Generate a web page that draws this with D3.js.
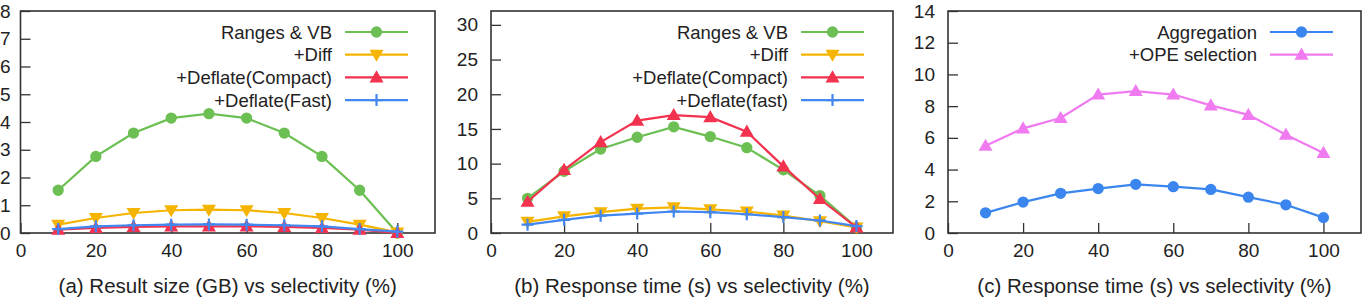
<!DOCTYPE html>
<html><head><meta charset="utf-8">
<script src="https://cdn.jsdelivr.net/npm/d3@7"></script>
<style>body{margin:0;background:#fff;} svg{display:block;} text{font-family:"Liberation Sans",Arial,Helvetica,sans-serif;fill:#222;}</style>
</head><body>
<svg id="c" width="1366" height="302"></svg>
<script>
const xs = [10,20,30,40,50,60,70,80,90,100];
const xTicks = [0,20,40,60,80,100];

// Panel (a): Result size (GB)
const aRanges = [1.54,2.76,3.6,4.14,4.3,4.14,3.6,2.76,1.54,0.0];
const aDiff = [0.3,0.54,0.72,0.82,0.84,0.82,0.72,0.54,0.3,0.02];
const aCompact = [0.12,0.18,0.22,0.24,0.24,0.24,0.22,0.18,0.12,0.0];
const aFast = [0.14,0.24,0.28,0.3,0.31,0.3,0.28,0.24,0.14,0.05];
const aYTicks = [0,1,2,3,4,5,6,7,8];

// Panel (b): Response time (s)
const bRanges = [5.0,8.9,12.1,13.8,15.3,13.9,12.3,9.1,5.4,0.8];
const bDiff = [1.6,2.4,3.0,3.5,3.7,3.4,3.1,2.5,1.7,0.8];
const bCompact = [4.5,9.1,13.1,16.2,17.0,16.7,14.6,9.6,4.9,0.8];
const bFast = [1.2,1.9,2.5,2.8,3.1,3.0,2.7,2.3,1.8,1.0];
const bYTicks = [0,5,10,15,20,25,30];

// Panel (c): Response time (s)
const cAgg = [1.27,1.95,2.5,2.8,3.07,2.92,2.75,2.26,1.78,0.97];
const cOpe = [5.5,6.6,7.25,8.73,8.95,8.73,8.05,7.45,6.2,5.05];
const cYTicks = [0,2,4,6,8,10,12,14];

const captions = ["(a) Result size (GB) vs selectivity (%)","(b) Response time (s) vs selectivity (%)","(c) Response time (s) vs selectivity (%)"];

const C = {green:"#6cbf52", yellow:"#f5b400", red:"#f2324e", blue:"#4287f0", blue2:"#3a86ee", pink:"#f07af0"};

const panels = [
  {left:20.5, right:435, ymax:8, yt:aYTicks, legX:332, pad:10, series:[
    {name:"Ranges & VB", v:aRanges, c:C.green, m:"circle"},
    {name:"+Diff", v:aDiff, c:C.yellow, m:"tdown"},
    {name:"+Deflate(Compact)", v:aCompact, c:C.red, m:"tup"},
    {name:"+Deflate(Fast)", v:aFast, c:C.blue, m:"plus"}], draw:[0,1,2,3]},
  {left:491, right:893, ymax:32, yt:bYTicks, legX:788, pad:13, series:[
    {name:"Ranges & VB", v:bRanges, c:C.green, m:"circle"},
    {name:"+Diff", v:bDiff, c:C.yellow, m:"tdown"},
    {name:"+Deflate(Compact)", v:bCompact, c:C.red, m:"tup"},
    {name:"+Deflate(fast)", v:bFast, c:C.blue, m:"plus"}], draw:[0,1,2,3]},
  {left:948, right:1361, ymax:14, yt:cYTicks, legX:1257, pad:13, series:[
    {name:"Aggregation", v:cAgg, c:C.blue2, m:"circle"},
    {name:"+OPE selection", v:cOpe, c:C.pink, m:"tup"}], draw:[0,1]}
];

const plotTop = 11, plotBottom = 233;
const svg = d3.select("#c");

function marker(g, type, color, x, y){
  if(type==="circle"){
    g.append("path").attr("d", d3.symbol(d3.symbolCircle, 100)()).attr("transform",`translate(${x},${y})`).attr("fill",color);
  } else if(type==="tup"){
    g.append("path").attr("d", d3.symbol(d3.symbolTriangle, 85)()).attr("transform",`translate(${x},${y+1})`).attr("fill",color);
  } else if(type==="tdown"){
    g.append("path").attr("d", d3.symbol(d3.symbolTriangle, 85)()).attr("transform",`translate(${x},${y-1}) rotate(180)`).attr("fill",color);
  } else {
    g.append("path").attr("d", `M${x-6},${y}H${x+6}M${x},${y-6}V${y+6}`).attr("stroke",color).attr("stroke-width",2.2).attr("fill","none");
  }
}

panels.forEach((p,i)=>{
  const x = d3.scaleLinear().domain([0,110]).range([p.left,p.right]);
  const y = d3.scaleLinear().domain([0,p.ymax]).range([plotBottom,plotTop]);
  const g = svg.append("g");

  const ya = g.append("g").attr("transform",`translate(${p.left},0)`)
    .call(d3.axisLeft(y).tickValues(p.yt).tickSize(-10).tickPadding(p.pad).tickFormat(d3.format("d")));
  ya.select(".domain").remove();
  ya.selectAll("line").attr("stroke","#333").attr("stroke-width",1.3);
  ya.selectAll("text").attr("font-size",19).style("font-family","'Liberation Sans',Arial,sans-serif").attr("fill","#222");

  const xa = g.append("g").attr("transform",`translate(0,${plotBottom})`)
    .call(d3.axisBottom(x).tickValues(xTicks).tickSize(-10).tickPadding(11).tickFormat(d3.format("d")));
  xa.select(".domain").remove();
  xa.selectAll("line").attr("stroke","#333").attr("stroke-width",1.3);
  xa.selectAll("text").attr("font-size",19).style("font-family","'Liberation Sans',Arial,sans-serif").attr("fill","#222");

  g.append("rect").attr("x",p.left).attr("y",plotTop).attr("width",p.right-p.left).attr("height",plotBottom-plotTop)
    .attr("fill","none").attr("stroke","#333").attr("stroke-width",1.6);

  const line = d3.line().x((d,j)=>x(xs[j])).y(d=>y(d));
  p.draw.forEach(si=>{
    const s = p.series[si];
    g.append("path").datum(s.v).attr("d",line).attr("fill","none").attr("stroke",s.c).attr("stroke-width",2.2);
    s.v.forEach((d,j)=>marker(g, s.m, s.c, x(xs[j]), y(d)));
  });

  p.series.forEach((s,k)=>{
    const ly = 32 + k*22.7;
    g.append("text").attr("x",p.legX).attr("y",ly).attr("text-anchor","end").attr("dominant-baseline","central")
      .attr("font-size",18.5).text(s.name);
    g.append("line").attr("x1",p.legX+13).attr("x2",p.legX+76).attr("y1",ly).attr("y2",ly).attr("stroke",s.c).attr("stroke-width",2.2);
    marker(g, s.m, s.c, p.legX+44.5, ly);
  });

  svg.append("text").attr("x",(p.left+p.right)/2).attr("y",285).attr("text-anchor","middle")
    .attr("dominant-baseline","central").attr("font-size",20.5).text(captions[i]);
});
</script>
</body></html>
